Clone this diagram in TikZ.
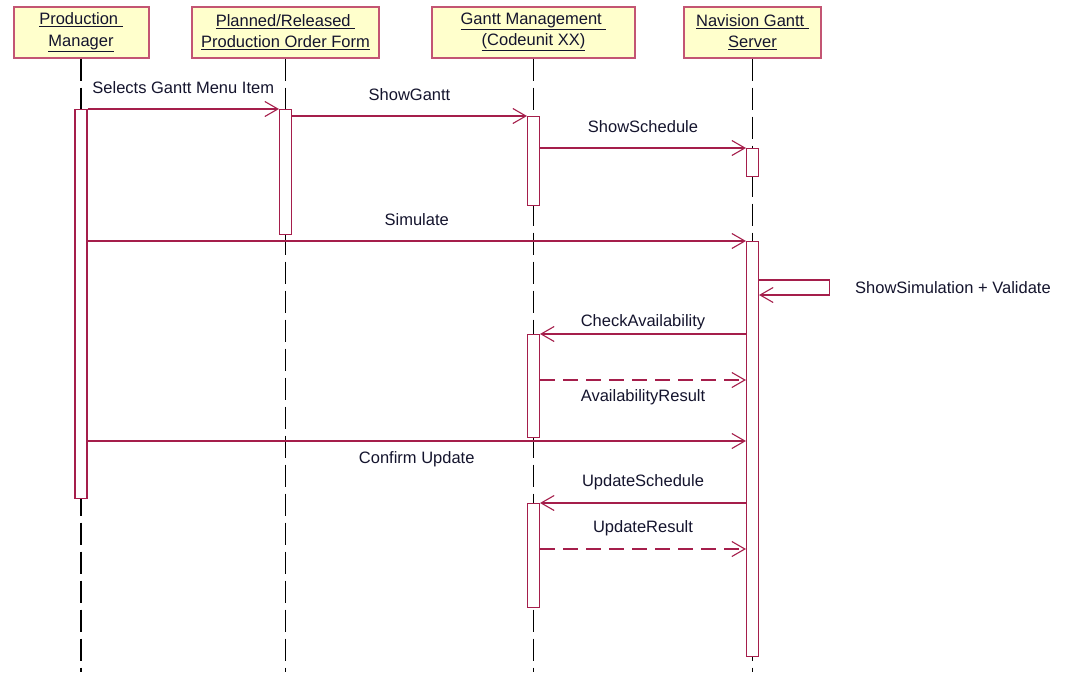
\documentclass[tikz,border=0pt]{standalone}
\usepackage{fontspec}
\setmainfont{Liberation Sans}
\usetikzlibrary{arrows.meta}
\definecolor{msgred}{RGB}{165,30,75}
\definecolor{boxred}{RGB}{195,85,115}
\definecolor{boxfill}{RGB}{255,255,204}
\definecolor{ink}{RGB}{20,20,45}

\begin{document}
\begin{tikzpicture}[x=1pt, y=-1pt,
    actor/.style={draw=boxred, line width=2pt, fill=boxfill, align=center, inner sep=0pt, text=ink,
        minimum height=51pt, font=\fontsize{16.5}{21.5}\selectfont},
    lifeline/.style={black, line width=1.1pt, dash pattern=on 22pt off 7pt},
    bar/.style={draw=msgred, line width=1.1pt, fill=white, anchor=north, minimum width=12pt, inner sep=0pt},
    msg/.style={msgred, line width=1.1pt, -{Straight Barb[length=13pt, width=15pt]}},
    reply/.style={msg, dash pattern=on 15pt off 8pt},
    lbl/.style={ink, font=\fontsize{16.5}{19}\selectfont, inner sep=0pt}]
    \useasboundingbox (0,0) rectangle (1068,672);
    \node[actor, minimum width=135pt] (pm) at (81,32) {\underline{Production\ }\\\underline{Manager}};
    \node[actor, minimum width=187pt] (pr) at (285.5,32) {\underline{Planned/Released\ }\\\underline{Production Order Form}};
    \node[actor, minimum width=203pt] (gm) at (533.5,32) {\underline{Gantt Management\ }\\\underline{(Codeunit XX)}};
    \node[actor, minimum width=137pt] (ns) at (752.5,32) {\underline{Navision Gantt\ }\\\underline{Server}};
    \coordinate (bottom) at (0,672);
    \foreach \a in {pm, pr, gm, ns}
        \draw[lifeline] (\a.south) -- (\a |- bottom);
    \node[bar, minimum height=389pt] (pm1) at (81,109) {};
    \node[bar, minimum height=125pt] (pr1) at (285.5,109) {};
    \node[bar, minimum height=89pt] (gm1) at (533.5,116) {};
    \node[bar, minimum height=28pt] (ns1) at (752.5,148) {};
    \node[bar, minimum height=415pt] (ns2) at (752.5,241) {};
    \node[bar, minimum height=103pt] (gm2) at (533.5,334) {};
    \node[bar, minimum height=104pt] (gm3) at (533.5,503) {};
    \coordinate (t5a) at (0,280);
    \coordinate (t5b) at (0,295);
    \coordinate (t7) at (0,380);
    \coordinate (t8) at (0,441);
    \coordinate (t10) at (0,549);
    \draw[msg] (pm1.east |- pr1.north) -- (pr1.north west) node[lbl, midway, yshift=21pt] {Selects Gantt Menu Item};
    \draw[msg] (pr1.east |- gm1.north) -- (gm1.north west) node[lbl, midway, yshift=21pt] {ShowGantt};
    \draw[msg] (gm1.east |- ns1.north) -- (ns1.north west) node[lbl, midway, yshift=21pt] {ShowSchedule};
    \draw[msg] (pm1.east |- ns2.north) -- (ns2.north west) node[lbl, midway, yshift=21pt] {Simulate};
    \draw[msg] (ns2.east |- t5a) -- ++(70,0) |- (ns2.east |- t5b);
    \node[lbl, anchor=west] (sv) at (855,288) {ShowSimulation + Validate};
    \draw[msg] (ns2.west |- gm2.north) -- (gm2.north east) node[lbl, midway, yshift=12pt] {CheckAvailability};
    \draw[reply] (gm2.east |- t7) -- (ns2.west |- t7) node[lbl, midway, yshift=-17pt] {AvailabilityResult};
    \draw[msg] (pm1.east |- t8) -- (ns2.west |- t8) node[lbl, midway, yshift=-18pt] {Confirm Update};
    \draw[msg] (ns2.west |- gm3.north) -- (gm3.north east) node[lbl, midway, yshift=21pt] {UpdateSchedule};
    \draw[reply] (gm3.east |- t10) -- (ns2.west |- t10) node[lbl, midway, yshift=21pt] {UpdateResult};
\end{tikzpicture}
\end{document}
